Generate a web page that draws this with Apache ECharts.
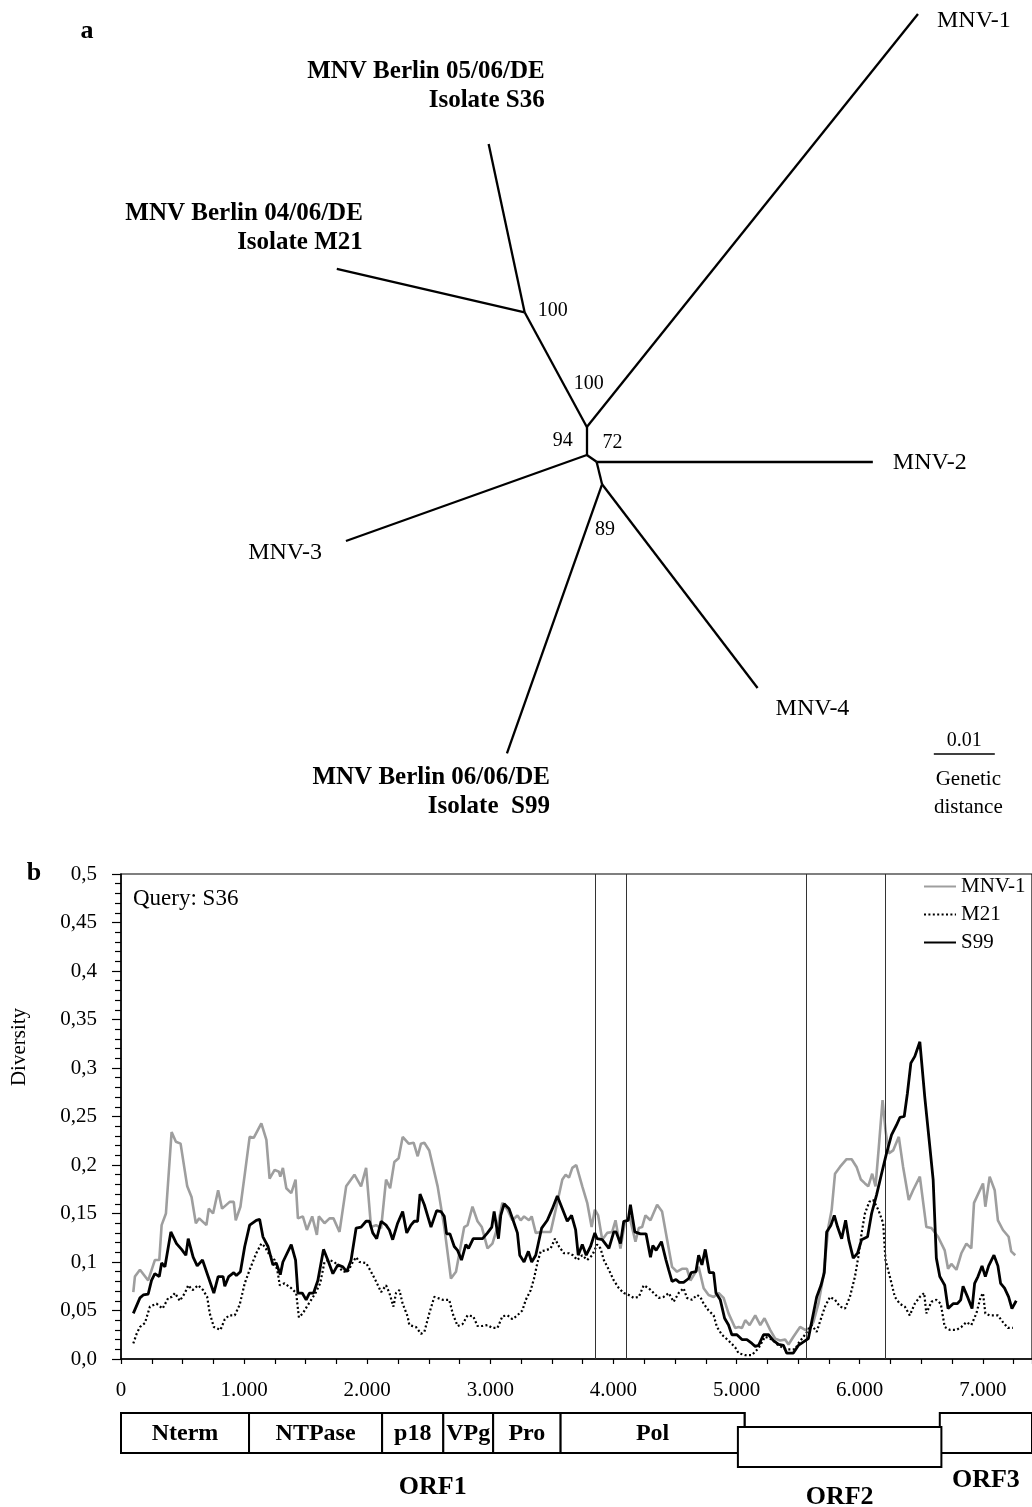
<!DOCTYPE html>
<html><head><meta charset="utf-8">
<script src="https://cdn.jsdelivr.net/npm/echarts@6/dist/echarts.min.js"></script>
<style>html,body{margin:0;padding:0;background:#fff}#chart{width:1032px;height:1507px}</style>
</head><body><div id="chart"></div>
<script>
// ---------------- DATA ----------------
// Panel b: sliding-window diversity against query S36 (position nt, diversity)
const mnv1 = [[100,0.069],[113,0.085],[154,0.092],[221,0.081],[275,0.102],[311,0.102],[330,0.138],[365,0.150],[411,0.234],[446,0.224],[484,0.222],[538,0.178],[573,0.167],[608,0.140],[635,0.145],[694,0.138],[713,0.155],[748,0.150],[789,0.174],[821,0.155],[883,0.162],[916,0.162],[932,0.143],[970,0.157],[1005,0.190],[1045,0.229],[1078,0.228],[1140,0.243],[1181,0.226],[1207,0.186],[1248,0.195],[1283,0.193],[1294,0.188],[1315,0.197],[1343,0.176],[1383,0.171],[1418,0.185],[1437,0.145],[1477,0.147],[1510,0.133],[1553,0.147],[1591,0.128],[1607,0.147],[1653,0.140],[1694,0.145],[1726,0.145],[1775,0.131],[1829,0.178],[1896,0.190],[1950,0.178],[1991,0.197],[2031,0.136],[2072,0.138],[2113,0.135],[2153,0.185],[2186,0.176],[2220,0.203],[2255,0.207],[2288,0.229],[2337,0.222],[2377,0.223],[2410,0.209],[2437,0.222],[2464,0.223],[2504,0.215],[2572,0.178],[2626,0.136],[2680,0.083],[2721,0.090],[2753,0.112],[2788,0.136],[2815,0.138],[2855,0.157],[2896,0.142],[2931,0.136],[2977,0.114],[3017,0.119],[3058,0.136],[3098,0.161],[3139,0.154],[3179,0.143],[3220,0.148],[3247,0.143],[3274,0.147],[3314,0.143],[3336,0.147],[3369,0.130],[3423,0.131],[3490,0.131],[3531,0.154],[3585,0.185],[3612,0.190],[3639,0.187],[3666,0.197],[3698,0.200],[3747,0.178],[3787,0.161],[3823,0.136],[3849,0.154],[3876,0.148],[3909,0.123],[3949,0.130],[3990,0.131],[4017,0.143],[4057,0.114],[4092,0.140],[4130,0.147],[4179,0.121],[4206,0.135],[4233,0.136],[4260,0.148],[4301,0.143],[4355,0.159],[4395,0.152],[4436,0.123],[4476,0.095],[4516,0.090],[4557,0.093],[4597,0.093],[4625,0.081],[4660,0.088],[4692,0.095],[4733,0.073],[4773,0.066],[4814,0.064],[4854,0.068],[4895,0.063],[4935,0.047],[4989,0.032],[5017,0.033],[5044,0.032],[5071,0.040],[5106,0.035],[5152,0.045],[5193,0.035],[5227,0.042],[5273,0.030],[5314,0.021],[5354,0.019],[5395,0.020],[5422,0.015],[5462,0.023],[5516,0.033],[5557,0.030],[5597,0.032],[5624,0.038],[5665,0.057],[5705,0.085],[5746,0.136],[5773,0.154],[5800,0.191],[5840,0.198],[5894,0.206],[5935,0.206],[5975,0.198],[6010,0.185],[6043,0.181],[6070,0.178],[6102,0.191],[6129,0.178],[6156,0.219],[6186,0.267],[6210,0.236],[6237,0.212],[6272,0.215],[6318,0.229],[6353,0.198],[6399,0.164],[6434,0.174],[6489,0.188],[6542,0.136],[6583,0.135],[6637,0.126],[6691,0.112],[6718,0.093],[6745,0.098],[6786,0.092],[6826,0.109],[6867,0.119],[6907,0.114],[6929,0.161],[7002,0.181],[7021,0.157],[7056,0.188],[7097,0.174],[7123,0.143],[7164,0.133],[7210,0.126],[7231,0.111],[7264,0.107]];

const m21 = [[100,0.016],[127,0.026],[154,0.033],[194,0.037],[235,0.054],[289,0.057],[338,0.052],[384,0.063],[411,0.064],[438,0.068],[478,0.060],[519,0.068],[546,0.076],[581,0.071],[627,0.076],[667,0.071],[700,0.064],[721,0.047],[754,0.033],[808,0.030],[843,0.041],[878,0.045],[924,0.045],[964,0.056],[1005,0.078],[1045,0.092],[1099,0.109],[1140,0.119],[1167,0.116],[1207,0.107],[1248,0.102],[1275,0.088],[1289,0.076],[1329,0.078],[1383,0.073],[1423,0.068],[1445,0.043],[1477,0.047],[1510,0.054],[1545,0.061],[1580,0.068],[1618,0.078],[1653,0.100],[1694,0.102],[1734,0.100],[1770,0.095],[1802,0.090],[1842,0.090],[1883,0.100],[1910,0.105],[1937,0.100],[1991,0.099],[2031,0.090],[2072,0.080],[2113,0.069],[2153,0.076],[2180,0.068],[2213,0.054],[2234,0.068],[2261,0.071],[2288,0.057],[2328,0.044],[2342,0.035],[2396,0.033],[2437,0.026],[2464,0.028],[2504,0.047],[2545,0.064],[2572,0.063],[2613,0.061],[2666,0.061],[2694,0.047],[2734,0.034],[2775,0.036],[2815,0.045],[2861,0.044],[2896,0.034],[2937,0.034],[2977,0.035],[3017,0.032],[3058,0.032],[3098,0.044],[3139,0.045],[3179,0.041],[3220,0.045],[3260,0.050],[3288,0.061],[3328,0.071],[3355,0.083],[3382,0.099],[3409,0.111],[3450,0.112],[3490,0.114],[3525,0.124],[3558,0.116],[3598,0.109],[3639,0.109],[3671,0.107],[3706,0.102],[3747,0.107],[3787,0.102],[3828,0.107],[3868,0.118],[3895,0.114],[3922,0.102],[3963,0.092],[4003,0.081],[4044,0.073],[4084,0.068],[4125,0.066],[4165,0.063],[4206,0.064],[4246,0.076],[4287,0.073],[4327,0.068],[4368,0.063],[4408,0.064],[4449,0.068],[4489,0.059],[4530,0.068],[4570,0.073],[4597,0.063],[4638,0.061],[4679,0.066],[4706,0.064],[4733,0.057],[4773,0.050],[4814,0.045],[4841,0.033],[4881,0.025],[4935,0.019],[4989,0.012],[5016,0.006],[5070,0.004],[5124,0.004],[5178,0.011],[5232,0.023],[5290,0.020],[5340,0.014],[5400,0.010],[5475,0.010],[5502,0.016],[5556,0.025],[5610,0.035],[5651,0.028],[5692,0.044],[5719,0.054],[5759,0.064],[5800,0.061],[5840,0.054],[5881,0.052],[5921,0.064],[5962,0.085],[5989,0.105],[6016,0.130],[6043,0.150],[6078,0.162],[6110,0.164],[6151,0.154],[6191,0.140],[6210,0.102],[6245,0.085],[6286,0.064],[6326,0.057],[6367,0.054],[6407,0.045],[6448,0.057],[6489,0.064],[6524,0.068],[6542,0.047],[6583,0.059],[6623,0.061],[6659,0.057],[6691,0.033],[6732,0.030],[6786,0.030],[6826,0.033],[6867,0.038],[6907,0.035],[6948,0.047],[6983,0.064],[7002,0.068],[7021,0.047],[7056,0.045],[7123,0.045],[7164,0.038],[7204,0.032],[7245,0.032]];

const s99 = [[100,0.047],[154,0.063],[181,0.066],[221,0.067],[248,0.081],[275,0.088],[311,0.085],[330,0.099],[357,0.095],[405,0.131],[451,0.119],[492,0.113],[527,0.107],[546,0.124],[586,0.105],[619,0.096],[662,0.102],[708,0.085],[754,0.068],[789,0.085],[829,0.085],[843,0.075],[875,0.085],[916,0.089],[937,0.086],[970,0.090],[1005,0.116],[1045,0.138],[1099,0.143],[1126,0.144],[1153,0.126],[1194,0.116],[1234,0.097],[1261,0.099],[1294,0.087],[1315,0.100],[1383,0.118],[1418,0.102],[1437,0.068],[1472,0.068],[1504,0.061],[1531,0.068],[1564,0.068],[1599,0.081],[1645,0.113],[1680,0.102],[1721,0.088],[1761,0.097],[1802,0.095],[1834,0.090],[1869,0.102],[1910,0.135],[1950,0.136],[1991,0.142],[2018,0.142],[2045,0.130],[2077,0.124],[2113,0.142],[2153,0.138],[2180,0.133],[2207,0.123],[2247,0.140],[2288,0.152],[2321,0.130],[2355,0.138],[2382,0.142],[2409,0.142],[2429,0.170],[2464,0.159],[2518,0.136],[2564,0.153],[2599,0.152],[2626,0.147],[2645,0.129],[2672,0.129],[2707,0.116],[2734,0.112],[2766,0.102],[2801,0.118],[2823,0.114],[2861,0.124],[2896,0.124],[2937,0.124],[2977,0.130],[3012,0.136],[3031,0.152],[3066,0.124],[3085,0.148],[3112,0.160],[3152,0.155],[3185,0.143],[3220,0.130],[3239,0.107],[3274,0.100],[3309,0.111],[3336,0.100],[3369,0.107],[3417,0.135],[3463,0.143],[3504,0.155],[3544,0.168],[3585,0.155],[3625,0.142],[3660,0.148],[3693,0.133],[3714,0.107],[3747,0.118],[3779,0.107],[3814,0.116],[3849,0.130],[3868,0.124],[3909,0.123],[3963,0.114],[4003,0.131],[4022,0.131],[4057,0.119],[4084,0.142],[4120,0.143],[4138,0.159],[4174,0.131],[4219,0.129],[4265,0.129],[4301,0.105],[4320,0.117],[4347,0.112],[4390,0.121],[4427,0.102],[4449,0.092],[4476,0.080],[4508,0.082],[4535,0.079],[4570,0.079],[4611,0.083],[4632,0.089],[4670,0.090],[4692,0.107],[4719,0.097],[4746,0.113],[4779,0.089],[4814,0.089],[4833,0.068],[4868,0.061],[4903,0.042],[4935,0.035],[4962,0.025],[5003,0.025],[5044,0.020],[5084,0.020],[5125,0.016],[5152,0.013],[5179,0.014],[5219,0.025],[5260,0.025],[5300,0.019],[5341,0.015],[5381,0.014],[5408,0.006],[5460,0.006],[5502,0.014],[5583,0.021],[5624,0.047],[5651,0.064],[5686,0.076],[5713,0.089],[5732,0.131],[5767,0.138],[5794,0.148],[5821,0.136],[5854,0.124],[5886,0.143],[5913,0.122],[5948,0.104],[5983,0.109],[6016,0.123],[6064,0.126],[6097,0.150],[6137,0.169],[6178,0.191],[6218,0.212],[6259,0.231],[6299,0.241],[6327,0.249],[6362,0.250],[6388,0.274],[6416,0.305],[6448,0.312],[6489,0.327],[6529,0.270],[6570,0.219],[6597,0.185],[6623,0.104],[6651,0.085],[6678,0.079],[6691,0.076],[6718,0.052],[6759,0.057],[6794,0.057],[6821,0.061],[6840,0.075],[6880,0.063],[6913,0.052],[6934,0.078],[6961,0.085],[6994,0.096],[7021,0.085],[7048,0.096],[7091,0.107],[7123,0.096],[7145,0.078],[7177,0.073],[7210,0.064],[7237,0.052],[7272,0.060]];

const seriesNames = ['MNV-1', 'M21', 'S99'];
const boundaryLines = [3850, 4105, 5570, 6210];
const xTicks = [0, 1000, 2000, 3000, 4000, 5000, 6000, 7000];
const yTicks = [0, 0.05, 0.1, 0.15, 0.2, 0.25, 0.3, 0.35, 0.4, 0.45, 0.5];

// Genome map (nt)
const domainNames = ['Nterm', 'NTPase', 'p18', 'VPg', 'Pro', 'Pol'];
const domainBounds = [0, 1040, 2121, 2618, 3023, 3571, 5065];
const orfNames = ['ORF1', 'ORF2', 'ORF3'];
const orfStarts = [0, 5011, 6651];
const orfEnds = [5065, 6664, 7400];

// Panel a: unrooted tree, node coordinates in genetic-distance units
const treeNodes = {
  C: [0, 0], B: [0, 0.0046], A: [-0.0102, 0.0234], E: [0.0016, -0.0011], D: [0.0025, -0.0048],
  S36: [-0.0161, 0.0510], M21: [-0.0410, 0.0305], MNV1: [0.0543, 0.0723],
  MNV2: [0.0469, -0.0011], MNV3: [-0.0395, -0.0141], S99: [-0.0131, -0.0489], MNV4: [0.0280, -0.0382]
};
const treeEdges = [['C','B'],['B','A'],['A','S36'],['A','M21'],['B','MNV1'],['C','E'],['E','MNV2'],['E','D'],['C','MNV3'],['D','S99'],['D','MNV4']];
const leafIds = ['MNV1','MNV2','MNV3','MNV4','S36','M21','S99'];
const leafNames = {
  MNV1: 'MNV-1', MNV2: 'MNV-2', MNV3: 'MNV-3', MNV4: 'MNV-4',
  S36: 'MNV Berlin 05/06/DE\nIsolate S36', M21: 'MNV Berlin 04/06/DE\nIsolate M21', S99: 'MNV Berlin 06/06/DE\nIsolate  S99'
};
const bootstrapNodes = ['A', 'B', 'C', 'E', 'D'];
const bootstrapValues = [100, 100, 94, 72, 89];
const scaleBarLength = 0.01;

// ---------------- STYLE / LAYOUT ----------------
const FONT = "'Liberation Serif','Times New Roman',serif";
const leafLabelStyle = {
  MNV1: {align: 'left', offset: [19, 7], bold: false},
  MNV2: {align: 'left', offset: [20, 1], bold: false},
  MNV3: {align: 'right', offset: [-24, 12], bold: false},
  MNV4: {align: 'left', offset: [18, 21], bold: false},
  S36: {align: 'right', offset: [56, -58], bold: true},
  M21: {align: 'right', offset: [26, -41], bold: true},
  S99: {align: 'right', offset: [43, 39], bold: true}
};
const bootstrapOffsets = [[28, -2], [2, -43], [-24, -14], [16, -19], [3, 45]];
const orfLabelGap = {ORF1: 34, ORF2: 30, ORF3: 27};
// tree frame: pixels per distance unit and pixel position of node C
const TREE_SCALE = 6100, TREE_OX = 587, TREE_OY = 455;
const treeX = [-0.096, 0.073], treeY = [-0.065, 0.0745];
const scaleBarAt = [0.0569, -0.0489];

const chart = echarts.init(document.getElementById('chart'), null, {renderer: 'canvas'});

// genome map items
const orfRows = {ORF1: [8, 48], ORF2: [22, 62], ORF3: [8, 48]};
const mapItems = [];
mapItems.push({s: orfStarts[0], e: orfEnds[0], row: orfRows.ORF1, inner: null, below: orfNames[0]});
domainNames.forEach((n, i) => mapItems.push({s: domainBounds[i], e: domainBounds[i + 1], row: orfRows.ORF1, inner: n, below: null}));
mapItems.push({s: orfStarts[2], e: orfEnds[2], row: orfRows.ORF3, inner: null, below: orfNames[2]});
mapItems.push({s: orfStarts[1], e: orfEnds[1], row: orfRows.ORF2, inner: null, below: orfNames[1]});

const fmtY = v => {
  const r = Number(v.toFixed(2));
  return r === 0 ? '0,0' : String(r).replace('.', ',');
};
const fmtX = v => {
  if (xTicks.indexOf(v) < 0) return '';
  return v === 0 ? '0' : (v / 1000) + '.000';
};
const labelScatter = {
  type: 'scatter', xAxisIndex: 2, yAxisIndex: 2, silent: true,
  symbolSize: 1, itemStyle: {color: 'rgba(0,0,0,0)', opacity: 1}
};

const option = {
  animation: false,
  backgroundColor: '#fff',
  textStyle: {fontFamily: FONT, color: '#000'},
  legend: {
    data: seriesNames,
    orient: 'vertical', left: 923, top: 876, padding: 0,
    itemWidth: 32, itemHeight: 12, itemGap: 7,
    textStyle: {fontFamily: FONT, fontSize: 21, color: '#000'},
    itemStyle: {opacity: 0}
  },
  grid: [
    {left: 121, top: 874, width: 913, height: 485, show: true, borderColor: '#000', borderWidth: 1.2, backgroundColor: 'transparent'},
    {left: 121, top: 1405, width: 913, height: 70},
    {left: TREE_OX + treeX[0] * TREE_SCALE, width: (treeX[1] - treeX[0]) * TREE_SCALE,
     top: TREE_OY - treeY[1] * TREE_SCALE, height: (treeY[1] - treeY[0]) * TREE_SCALE}
  ],
  xAxis: [
    {
      gridIndex: 0, type: 'value', min: 0, max: 7400, interval: 1000,
      axisLine: {lineStyle: {color: '#000', width: 1.5}},
      axisTick: {length: 5, lineStyle: {color: '#000', width: 1.2}},
      minorTick: {show: true, splitNumber: 4, length: 5, lineStyle: {color: '#000', width: 1.2}},
      splitLine: {show: false},
      axisLabel: {formatter: fmtX, fontSize: 21, color: '#000', fontFamily: FONT, margin: 21, showMaxLabel: false}
    },
    {gridIndex: 1, type: 'value', min: 0, max: 7400, show: false},
    {gridIndex: 2, type: 'value', min: treeX[0], max: treeX[1], show: false}
  ],
  yAxis: [
    {
      gridIndex: 0, type: 'value', min: 0, max: 0.5, interval: 0.05,
      axisLine: {show: true, lineStyle: {color: '#000', width: 1.5}},
      axisTick: {show: true, length: 9, lineStyle: {color: '#000', width: 1.2}},
      minorTick: {show: true, splitNumber: 5, length: 6, lineStyle: {color: '#000', width: 1.2}},
      splitLine: {show: false},
      axisLabel: {formatter: fmtY, fontSize: 21, color: '#000', fontFamily: FONT, margin: 24}
    },
    {gridIndex: 1, type: 'value', min: 0, max: 70, inverse: true, show: false},
    {gridIndex: 2, type: 'value', min: treeY[0], max: treeY[1], show: false}
  ],
  graphic: [
    {type: 'text', x: 87, y: 31, style: {text: 'a', align: 'center', verticalAlign: 'middle', font: 'bold 26px ' + FONT, fill: '#000'}},
    {type: 'text', x: 34, y: 873, style: {text: 'b', align: 'center', verticalAlign: 'middle', font: 'bold 26px ' + FONT, fill: '#000'}},
    {type: 'text', x: 133, y: 899, style: {text: 'Query: S36', align: 'left', verticalAlign: 'middle', font: '23px ' + FONT, fill: '#000'}},
    {type: 'text', x: 19, y: 1047, rotation: Math.PI / 2, style: {text: 'Diversity', align: 'center', verticalAlign: 'middle', font: '21px ' + FONT, fill: '#000'}}
  ],
  series: [
    {
      name: 'MNV-1', type: 'line', xAxisIndex: 0, yAxisIndex: 0, data: mnv1,
      symbol: 'none', showSymbol: false, z: 3,
      lineStyle: {color: '#9e9e9e', width: 2.6}, itemStyle: {color: '#9e9e9e'},
      markLine: {
        silent: true, symbol: ['none', 'none'], label: {show: false},
        lineStyle: {color: '#333', width: 1, type: 'solid'},
        data: boundaryLines.map(v => ({xAxis: v}))
      }
    },
    {
      name: 'M21', type: 'line', xAxisIndex: 0, yAxisIndex: 0, data: m21,
      symbol: 'none', showSymbol: false, z: 4,
      lineStyle: {color: '#000', width: 2.2, type: [2, 2.4]}, itemStyle: {color: '#000'}
    },
    {
      name: 'S99', type: 'line', xAxisIndex: 0, yAxisIndex: 0, data: s99,
      symbol: 'none', showSymbol: false, z: 5,
      lineStyle: {color: '#000', width: 2.8}, itemStyle: {color: '#000'}
    },
    {
      type: 'custom', xAxisIndex: 1, yAxisIndex: 1, clip: false, silent: true,
      data: mapItems.map(m => [m.s, m.e]),
      renderItem: (params, api) => {
        const m = mapItems[params.dataIndex];
        const p1 = api.coord([m.s, m.row[0]]);
        const p2 = api.coord([m.e, m.row[1]]);
        const z = params.dataIndex * 3;
        const ch = [{
          type: 'rect', z2: z,
          shape: {x: p1[0], y: p1[1], width: p2[0] - p1[0], height: p2[1] - p1[1]},
          style: {fill: '#fff', stroke: '#000', lineWidth: 2}
        }];
        if (m.inner) ch.push({type: 'text', z2: z + 1, style: {text: m.inner, x: (p1[0] + p2[0]) / 2, y: (p1[1] + p2[1]) / 2 + 1, align: 'center', verticalAlign: 'middle', font: 'bold 24px ' + FONT, fill: '#000'}});
        if (m.below) ch.push({type: 'text', z2: z + 1, style: {text: m.below, x: (p1[0] + p2[0]) / 2, y: p2[1] + orfLabelGap[m.below], align: 'center', verticalAlign: 'middle', font: 'bold 26px ' + FONT, fill: '#000'}});
        return {type: 'group', children: ch};
      }
    },
    {
      type: 'lines', coordinateSystem: 'cartesian2d', xAxisIndex: 2, yAxisIndex: 2, silent: true,
      symbol: ['none', 'none'],
      lineStyle: {color: '#000', width: 2.3, opacity: 1, curveness: 0},
      data: treeEdges.map(([a, b]) => ({coords: [treeNodes[a], treeNodes[b]]}))
    },
    {
      type: 'lines', coordinateSystem: 'cartesian2d', xAxisIndex: 2, yAxisIndex: 2, silent: true,
      symbol: ['none', 'none'],
      lineStyle: {color: '#000', width: 1.6, opacity: 1, curveness: 0},
      data: [{coords: [scaleBarAt, [scaleBarAt[0] + scaleBarLength, scaleBarAt[1]]]}]
    },
    Object.assign({}, labelScatter, {
      data: leafIds.map(id => {
        const st = leafLabelStyle[id];
        return {
          value: treeNodes[id],
          label: {
            show: true, position: 'inside', formatter: leafNames[id],
            align: st.align, verticalAlign: 'middle', offset: st.offset,
            fontFamily: FONT, fontSize: st.bold ? 25 : 24, fontWeight: st.bold ? 'bold' : 'normal',
            lineHeight: st.bold ? 29 : 26, color: '#000', opacity: 1
          }
        };
      })
    }),
    Object.assign({}, labelScatter, {
      data: bootstrapNodes.map((id, i) => ({
        value: treeNodes[id],
        label: {
          show: true, position: 'inside', formatter: String(bootstrapValues[i]),
          align: 'center', verticalAlign: 'middle', offset: bootstrapOffsets[i],
          fontFamily: FONT, fontSize: 20, color: '#000', opacity: 1
        }
      }))
    }),
    Object.assign({}, labelScatter, {
      data: [{
        value: [scaleBarAt[0] + scaleBarLength / 2, scaleBarAt[1]],
        label: {show: true, position: 'inside', formatter: String(scaleBarLength), align: 'center', verticalAlign: 'middle', offset: [0, -13], fontFamily: FONT, fontSize: 20, color: '#000', opacity: 1}
      }, {
        value: [scaleBarAt[0] + scaleBarLength / 2, scaleBarAt[1]],
        label: {show: true, position: 'inside', formatter: 'Genetic\ndistance', align: 'center', verticalAlign: 'middle', offset: [4, 40], lineHeight: 28, fontFamily: FONT, fontSize: 21, color: '#000', opacity: 1}
      }]
    })
  ]
};
chart.setOption(option);
</script></body></html>
